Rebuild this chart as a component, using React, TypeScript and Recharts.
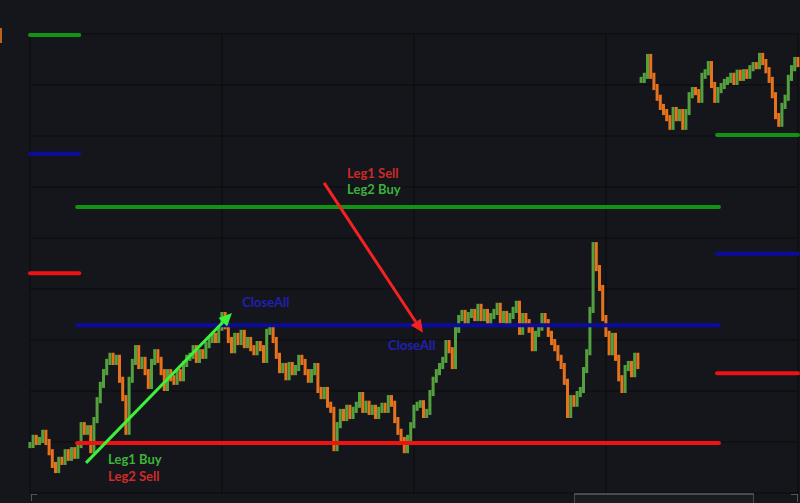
import React from "react";
import {
  Bar,
  CartesianGrid,
  Cell,
  ComposedChart,
  ReferenceDot,
  ReferenceLine,
  XAxis,
  YAxis,
} from "recharts";

// closes of the first session, one per bar
const closesLeft = [
  9.4, 10.8, 10.0, 10.4, 11.8, 10.0, 8.0, 5.5, 4.5, 6.5,
  6.1, 8.0, 6.9, 8.4, 7.3, 9.4, 13.3, 12.0, 12.7, 8.4,
  14.3, 18.2, 21.2, 23.7, 25.7, 26.9, 25.7, 26.5, 22.2, 18.6,
  12.0, 22.2, 25.7, 28.4, 24.9, 26.1, 23.7, 21.0, 25.7, 27.6,
  26.1, 23.7, 20.6, 23.7, 22.5, 21.8, 23.7, 22.5, 25.3, 26.5,
  26.9, 28.4, 26.1, 27.6, 26.9, 29.0, 30.0, 30.8, 30.0, 32.4,
  34.9, 32.7, 30.0, 28.0, 30.8, 29.6, 31.4, 29.0, 30.0, 28.4,
  27.6, 29.2, 28.4, 26.1, 31.6, 32.0, 30.0, 26.9, 24.1, 24.9,
  22.7, 25.1, 23.7, 24.5, 26.5, 25.7, 23.7, 22.2, 23.7, 24.9,
  20.2, 19.0, 20.2, 17.3, 16.3, 8.8, 13.3, 15.9, 14.7, 16.7,
  15.1, 16.3, 17.3, 19.2, 16.3, 17.5, 15.9, 16.7, 15.1, 16.3,
  17.1, 16.3, 18.6, 17.5, 14.3, 12.0, 10.4, 8.4, 10.8, 13.3,
  16.7, 17.3, 17.6, 15.3, 15.9, 19.6, 22.2, 23.7, 24.9, 26.1,
  29.4, 28.0, 24.9, 32.0, 34.3, 35.3, 33.5, 34.9, 35.5, 34.3,
  36.5, 34.3, 35.5, 33.5, 34.7, 35.5, 36.7, 33.9, 35.1, 33.5,
  34.7, 35.9, 37.1, 31.6, 34.7, 33.5, 32.0, 28.4, 31.2, 32.4,
  34.7, 33.5, 31.2, 29.6, 28.4, 26.5, 24.9, 21.8, 15.3, 18.6,
  17.5, 19.4, 20.2, 24.1, 27.6, 35.9, 48.6, 44.1, 40.2, 34.3,
  31.2, 27.6, 30.8, 26.5, 22.5, 20.2, 24.5, 25.3, 23.3, 26.9,
  24.9,
];

// closes of the later session
const closesRight = [
  81.0, 81.8, 85.5, 81.8, 79.6, 77.5, 75.7, 74.7, 73.5, 71.8,
  75.1, 73.5, 74.7, 71.8, 74.7, 78.0, 79.0, 78.6, 77.1, 81.8,
  82.5, 84.1, 80.0, 77.1, 79.0, 79.8, 80.6, 81.0, 81.8, 80.6,
  82.4, 81.4, 82.5, 81.8, 83.3, 83.9, 83.7, 85.7, 84.5, 82.9,
  81.0, 78.0, 73.9, 72.4, 75.9, 77.5, 81.4, 83.3, 84.9, 84.1,
];

// grid levels per zone: upper (green), middle (blue), lower (red)
const zoneStart = [0, 14.7, 214.7];
const zoneEnd = [15.4, 215.3, 240];
const upperLevels = [89.8, 56.1, 70.2];
const middleLevels = [66.5, 32.9, 46.9];
const lowerLevels = [43.1, 9.8, 23.5];

const timeTicks = [60, 120, 180, 240];
const priceTicks = [0, 10, 20, 30, 40, 50, 60, 70, 80];

// trade arrows: from -> to
const arrows = [
  { from: { x: 17.5, y: 5.9 }, to: { x: 63.1, y: 35.3 }, color: "#3cf03c" },
  { from: { x: 91.9, y: 60.8 }, to: { x: 122.8, y: 31.4 }, color: "#f42222" },
];

const notes = [
  { t: 24.4, p: 6.7, text: "Leg1 Buy", color: "#3cb43c" },
  { t: 24.4, p: 3.3, text: "Leg2 Sell", color: "#d02a2a" },
  { t: 66.3, p: 37.5, text: "CloseAll", color: "#2020b4" },
  { t: 111.9, p: 29.0, text: "CloseAll", color: "#2020b4" },
  { t: 99.1, p: 62.7, text: "Leg1 Sell", color: "#cc2a2a" },
  { t: 99.1, p: 59.6, text: "Leg2 Buy", color: "#3cb03c" },
];

const UP = "#55a03e";
const DOWN = "#e6721e";
const BG = "#15161b";

type Candle = { t: number; range: [number, number]; up: boolean };

function toCandles(closes: number[], start: number): Candle[] {
  return closes.map((c, i) => {
    const o = i === 0 ? c : closes[i - 1];
    return {
      t: start + i,
      range: [Math.min(o, c) - 0.6, Math.max(o, c) + 0.6],
      up: c >= o,
    };
  });
}

const candles = [
  ...toCandles(closesLeft, 0),
  ...toCandles(closesRight, closesLeft.length),
];

function ArrowShape(props: any) {
  const { x1, y1, x2, y2, stroke } = props;
  const a = Math.atan2(y2 - y1, x2 - x1);
  const len = 13;
  const half = 6;
  const bx = x2 - len * Math.cos(a);
  const by = y2 - len * Math.sin(a);
  const pts = `${x2},${y2} ${bx - half * Math.sin(a)},${by + half * Math.cos(a)} ${bx + half * Math.sin(a)},${by - half * Math.cos(a)}`;
  return (
    <g>
      <line x1={x1} y1={y1} x2={bx} y2={by} stroke={stroke} strokeWidth={3} />
      <polygon points={pts} fill={stroke} />
    </g>
  );
}

function levelLine(from: number, to: number, y: number, color: string, key: string) {
  return (
    <ReferenceLine
      key={key}
      segment={[
        { x: from, y },
        { x: to, y },
      ]}
      stroke={color}
      strokeWidth={4}
      strokeLinecap="round"
    />
  );
}

export default function App() {
  return (
    <div
      style={{
        position: "absolute",
        left: 0,
        top: 0,
        width: 800,
        height: 503,
        background: BG,
        overflow: "hidden",
      }}
    >
      <ComposedChart
        width={800}
        height={503}
        data={candles}
        margin={{ top: 34, right: 2, bottom: 10, left: 30 }}
      >
        <CartesianGrid stroke="#0a0a0d" strokeWidth={1} />
        <XAxis
          type="number"
          dataKey="t"
          domain={[0, 240]}
          ticks={timeTicks}
          hide
        />
        <YAxis type="number" domain={[0, 90]} ticks={priceTicks} hide />
        <Bar dataKey="range" barSize={3} isAnimationActive={false}>
          {candles.map((c) => (
            <Cell key={c.t} fill={c.up ? UP : DOWN} />
          ))}
        </Bar>
        {zoneStart.map((from, i) => [
          levelLine(from, zoneEnd[i], upperLevels[i], "#139313", `u${i}`),
          levelLine(from, zoneEnd[i], middleLevels[i], "#0c0c9c", `m${i}`),
          levelLine(from, zoneEnd[i], lowerLevels[i], "#f01212", `l${i}`),
        ])}
        {arrows.map((a, i) => (
          <ReferenceLine
            key={`a${i}`}
            segment={[a.from, a.to]}
            stroke={a.color}
            shape={ArrowShape}
          />
        ))}
        {notes.map((n, i) => (
          <ReferenceDot
            key={`n${i}`}
            x={n.t}
            y={n.p}
            r={0}
            shape={(p: any) => (
              <text
                x={p.cx}
                y={p.cy}
                fill={n.color}
                fontSize={13}
                fontFamily="Lato, sans-serif"
                fontWeight={700}
                dominantBaseline="central"
              >
                {n.text}
              </text>
            )}
          />
        ))}
      </ComposedChart>
      {/* scroll bar strip under the plot */}
      <div
        style={{
          position: "absolute",
          left: 31,
          top: 494,
          width: 5,
          height: 6,
          borderLeft: "1px solid #55565c",
          borderTop: "1px solid #55565c",
        }}
      />
      <div
        style={{
          position: "absolute",
          left: 574,
          top: 493,
          width: 178,
          height: 12,
          borderLeft: "1px solid #4a4b51",
          borderTop: "2px solid #4a4b51",
          borderRight: "1px solid #4a4b51",
          background: "#1b1c21",
        }}
      />
      <div
        style={{
          position: "absolute",
          left: 791,
          top: 494,
          width: 6,
          height: 7,
          borderRight: "1px solid #55565c",
          borderTop: "1px solid #55565c",
        }}
      />
      <div
        style={{
          position: "absolute",
          left: 0,
          top: 28,
          width: 2,
          height: 15,
          background: "#b5651d",
        }}
      />
    </div>
  );
}
